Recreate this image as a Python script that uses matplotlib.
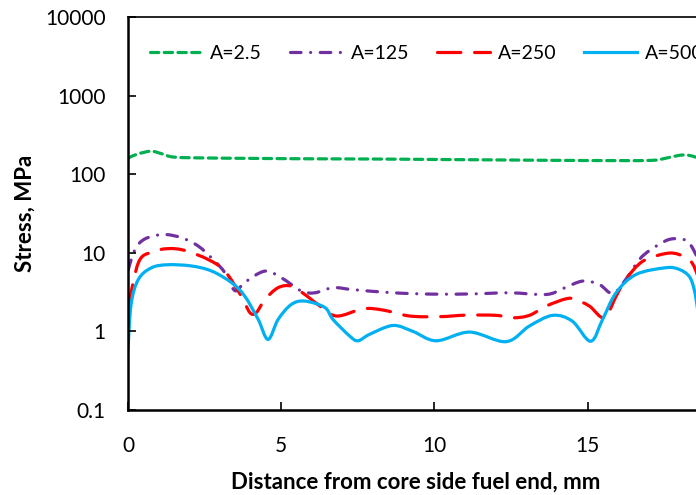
import numpy as np
import matplotlib.pyplot as plt
from matplotlib.lines import Line2D
from matplotlib.path import Path
from matplotlib.patches import PathPatch

plt.rcParams['font.family'] = ['Lato', 'DejaVu Sans']

# distance from core side fuel end (mm) and stress (MPa)
x_a25 = [0, 0.3, 0.75, 1.1, 1.5, 2.5, 4, 6, 8, 10, 12, 14, 16, 17.1, 17.5, 18.0, 18.3, 18.5, 18.75]
s_a25 = [160, 180, 196, 182, 165, 161, 159, 157, 156, 154, 152, 150, 149, 150, 158, 174, 174, 166, 158]

x_a125 = [0, 0.23, 0.55, 1.15, 1.75, 2.29, 2.78, 3.16, 3.49, 3.81, 4.47, 5.01, 5.66, 6.1, 6.69,
          7.34, 8.65, 9.95, 11.25, 12.45, 13.65, 14.19, 14.84, 15.38, 15.82, 16.25, 16.69,
          17.07, 17.67, 18.21, 18.48, 18.75]
s_a125 = [6.0, 11, 15, 17.1, 15.5, 12.2, 8.2, 5.6, 3.3, 4.2, 5.85, 4.8, 3.26, 3.1, 3.6,
          3.4, 3.1, 2.98, 3.0, 3.1, 2.95, 3.5, 4.37, 3.96, 3.04, 4.6, 8.2,
          11, 14.8, 14.4, 10.5, 6.0]

x_a250 = [0, 0.34, 0.77, 1.31, 1.86, 2.62, 3.16, 3.7, 3.98, 4.19, 4.47, 4.9, 5.33, 5.77, 6.2,
          6.8, 7.67, 8.32, 9.19, 10.17, 11.04, 12.02, 12.56, 13.1, 13.65, 14.3, 14.6, 15.06,
          15.55, 15.93, 16.25, 16.8, 17.56, 17.99, 18.37, 18.6, 18.75]
s_a250 = [2.0, 7.5, 10.2, 11.3, 10.7, 8.2, 5.85, 2.8, 1.73, 1.74, 2.55, 3.6, 3.77, 2.95, 2.2,
          1.57, 1.94, 1.87, 1.57, 1.54, 1.61, 1.6, 1.49, 1.6, 2.1, 2.6, 2.55, 2.1,
          1.49, 2.8, 4.6, 7.8, 9.8, 9.5, 7.8, 5.0, 2.8]

x_a500 = [0, 0.1, 0.34, 0.77, 1.31, 2.07, 2.73, 3.38, 3.81, 4.25, 4.57, 4.9, 5.33, 5.77,
          6.42, 6.69, 7.24, 7.51, 7.89, 8.65, 9.3, 10.06, 11.15, 12.34, 13.1, 13.86, 14.5,
          15.1, 15.49, 15.93, 16.58, 17.56, 17.99, 18.32, 18.48, 18.6, 18.75]
s_a500 = [0.58, 2.2, 4.6, 6.46, 7.05, 6.8, 5.86, 4.17, 2.81, 1.42, 0.79, 1.42, 2.2, 2.43,
          2.02, 1.42, 0.87, 0.76, 0.92, 1.19, 1.0, 0.76, 0.98, 0.74, 1.17, 1.6, 1.35,
          0.75, 1.42, 3.1, 5.3, 6.46, 6.15, 5.0, 3.4, 1.8, 0.6]

labels = ['A=2.5', 'A=125', 'A=250', 'A=500']
colors = ['#00B050', '#7030A0', '#FF0000', '#00B0F0']
dash_styles = [(2.6, 1.7), (3.3, 3.0, 0.01, 3.0), (7.3, 4.3), None]


def smooth_path(xs, ys):
    # Excel-style smoothed line: cubic Bezier through the points (done in log-y space)
    x = np.asarray(xs, float)
    y = np.log10(np.asarray(ys, float))
    n = len(x)
    verts = [(x[0], y[0])]
    codes = [Path.MOVETO]
    for i in range(n - 1):
        p0 = (x[max(i - 1, 0)], y[max(i - 1, 0)])
        p1 = (x[i], y[i])
        p2 = (x[i + 1], y[i + 1])
        p3 = (x[min(i + 2, n - 1)], y[min(i + 2, n - 1)])
        c1 = (p1[0] + (p2[0] - p0[0]) / 6, p1[1] + (p2[1] - p0[1]) / 6)
        c2 = (p2[0] - (p3[0] - p1[0]) / 6, p2[1] - (p3[1] - p1[1]) / 6)
        verts += [c1, c2, p2]
        codes += [Path.CURVE4] * 3
    verts = [(vx, 10 ** vy) for vx, vy in verts]
    return Path(verts, codes)


fig = plt.figure(figsize=(6.96, 4.95), dpi=100)
ax = fig.add_axes([128/696, 85/495, 576/696, 393/495])
ax.set_yscale('log')
ax.set_ylim(0.1, 10000)
ax.set_xlim(0, 18.8)

lw = 2.3
series = [(x_a25, s_a25), (x_a125, s_a125), (x_a250, s_a250), (x_a500, s_a500)]
for (xs, ys), c, ds in zip(series, colors, dash_styles):
    patch = PathPatch(smooth_path(xs, ys), fill=False, edgecolor=c, lw=lw,
                      capstyle='round', joinstyle='round')
    if ds is not None:
        patch.set_linestyle((0, ds))
    ax.add_patch(patch)

ax.set_xticks([0, 5, 10, 15])
ax.set_yticks([0.1, 1, 10, 100, 1000, 10000])
ax.set_yticklabels(['0.1', '1', '10', '100', '1000', '10000'])
ax.minorticks_off()
ax.tick_params(axis='both', direction='in', length=6, width=1.2, labelsize=15)
ax.tick_params(axis='x', pad=19)
ax.tick_params(axis='y', pad=16)

for side in ['left', 'bottom']:
    ax.spines[side].set_linewidth(1.8)
ax.spines['top'].set_linewidth(1.2)
ax.spines['right'].set_linewidth(1.2)

ax.set_xlabel('Distance from core side fuel end, mm', fontsize=16, fontweight='bold', labelpad=11)
ax.set_ylabel('Stress, MPa', fontsize=16, fontweight='bold', labelpad=7)

handles = []
for c, ds in zip(colors, dash_styles):
    if ds is None:
        handles.append(Line2D([], [], color=c, lw=lw))
    else:
        handles.append(Line2D([], [], color=c, lw=lw, dashes=ds, dash_capstyle='round'))
ax.legend(handles, labels, loc='center left', bbox_to_anchor=(0.038, 0.908), ncol=4,
          frameon=False, fontsize=14, handlelength=2.7, handletextpad=0.4,
          columnspacing=1.45, borderaxespad=0, borderpad=0)

fig.savefig('out.png', dpi=100)
